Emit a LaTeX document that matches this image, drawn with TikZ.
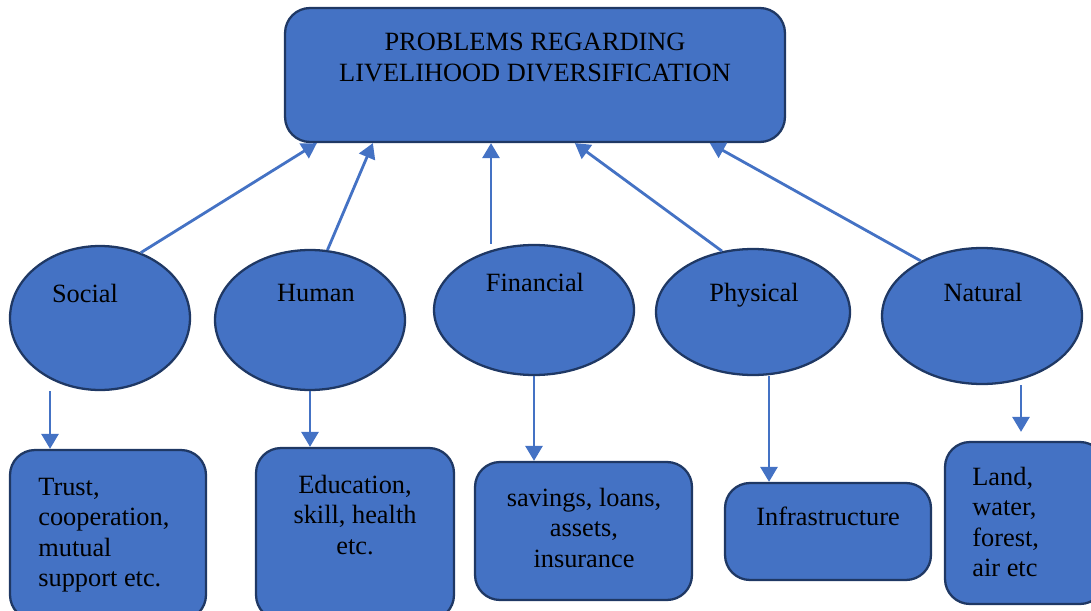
\documentclass[tikz,border=0pt]{standalone}
\usepackage{fontspec}
\setmainfont{Liberation Serif}
\usetikzlibrary{shapes.geometric,arrows.meta}
\definecolor{boxblue}{HTML}{4472C4}
\definecolor{boxedge}{HTML}{1F3864}
\tikzset{
  shapebox/.style={draw=boxedge, fill=boxblue, line width=1.3pt, rounded corners=0.5cm, inner sep=0},
  shapeoval/.style={draw=boxedge, fill=boxblue, line width=1.3pt, ellipse, inner sep=0},
  txt/.style={inner sep=0, font=\fontsize{15}{17.2}\selectfont},
  arr/.style={draw=boxblue, line width=1.6pt, -{Triangle[width=0.34cm, length=0.3cm]}}
}
\begin{document}
\begin{tikzpicture}[x=0.02cm, y=-0.02cm]
\useasboundingbox (0,0) rectangle (1091,611);

% Top box
\node[shapebox, minimum width=10cm, minimum height=2.68cm] (top) at (535,75) {};
\node[txt, anchor=north, align=center] (toptext) at (535,33) {PROBLEMS REGARDING\\LIVELIHOOD DIVERSIFICATION};

% The five capitals
\node[shapeoval, minimum width=3.6cm, minimum height=2.88cm] (social) at (100,318) {};
\node[txt, anchor=north] (socialtext) at (85,284) {Social};
\node[shapeoval, minimum width=3.8cm, minimum height=2.8cm] (human) at (310,320) {};
\node[txt, anchor=north] (humantext) at (316,284) {Human};
\node[shapeoval, minimum width=4cm, minimum height=2.6cm] (fin) at (534,310) {};
\node[txt, anchor=north] (fintext) at (535,273) {Financial};
\node[shapeoval, minimum width=3.88cm, minimum height=2.52cm] (phys) at (753,312) {};
\node[txt, anchor=north] (physext) at (754,283) {Physical};
\node[shapeoval, minimum width=4cm, minimum height=2.72cm] (nat) at (982,316) {};
\node[txt, anchor=north] (nattext) at (983,283) {Natural};

% Bottom boxes
\node[shapebox, minimum width=3.92cm, minimum height=3.4cm] (trust) at (108,535) {};
\node[txt, anchor=north west, align=left] (trusttext) at (38,478) {Trust,\\cooperation,\\mutual\\support etc.};
\node[shapebox, minimum width=3.96cm, minimum height=3.44cm] (edu) at (355,534) {};
\node[txt, anchor=north, align=center] (edutext) at (355,475) {Education,\\skill, health\\etc.};
\node[shapebox, minimum width=4.34cm, minimum height=2.76cm] (sav) at (583.5,531) {};
\node[txt, anchor=north, align=center] (savtext) at (584,488) {savings, loans,\\assets,\\insurance};
\node[shapebox, minimum width=4.12cm, minimum height=1.94cm] (infra) at (828,531.5) {};
\node[txt, anchor=north] (infratext) at (828,507) {Infrastructure};
\node[shapebox, minimum width=3.2cm, minimum height=3.24cm] (land) at (1025,523) {};
\node[txt, anchor=north west, align=left] (landtext) at (972,467) {Land,\\water,\\forest,\\air etc};

% Arrows up to the problem box
\draw[arr] (social.58) -- ([xshift=0.66cm]top.south west);
\draw[arr] (human.76) -- ([xshift=1.78cm]top.south west);
\draw[arr] ([xshift=-0.86cm]fin.north) -- ([xshift=-0.86cm]fin.north |- top.south);
\draw[arr] (phys.117) -- ([xshift=5.82cm]top.south west);
\draw[arr] (nat.138) -- ([xshift=8.52cm]top.south west);

% Arrows down to the examples
\draw[arr] ([xshift=-1cm]social.south) -- ([xshift=-1cm]social.south |- trust.north);
\draw[arr] (human.south) -- (human.south |- edu.north);
\draw[arr] (fin.south) -- (fin.south |- sav.north);
\draw[arr] ([xshift=0.32cm]phys.south) -- ([xshift=0.32cm]phys.south |- infra.north);
\draw[arr, shorten >=0.18cm] ([xshift=0.78cm]nat.south) -- ([xshift=0.78cm]nat.south |- land.north);
\end{tikzpicture}
\end{document}
